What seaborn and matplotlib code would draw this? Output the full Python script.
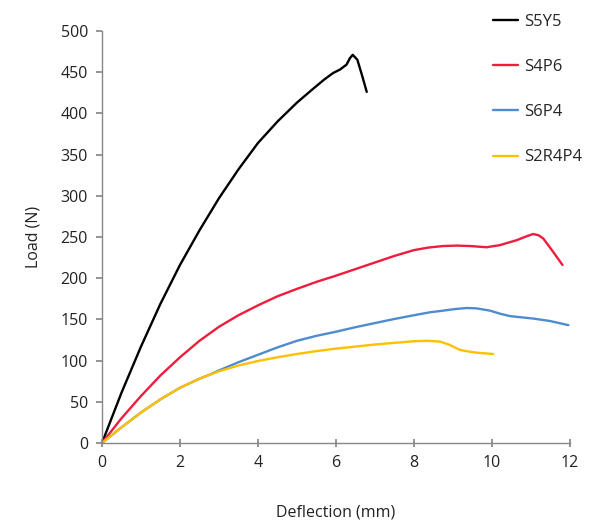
import numpy as np
import pandas as pd
import matplotlib
matplotlib.use("Agg")
import matplotlib.pyplot as plt
import seaborn as sns

# Data
s5y5_x = [0, 0.5, 1.0, 1.5, 2.0, 2.5, 3.0, 3.5, 4.0, 4.5, 5.0, 5.42, 5.7, 5.93, 6.1, 6.27, 6.36, 6.43, 6.55, 6.67, 6.79]
s5y5_y = [0, 61, 117, 169, 216, 258, 297, 332, 364, 390, 413, 430, 441, 449, 453, 459, 467, 471, 465, 446, 426]

s4p6_x = [0, 0.5, 1.0, 1.5, 2.0, 2.5, 3.0, 3.5, 4.0, 4.5, 5.0, 5.5, 6.0, 6.5, 7.0, 7.5, 8.0, 8.35, 8.75, 9.1, 9.44, 9.86, 10.2, 10.63, 10.9, 11.06, 11.2, 11.32, 11.57, 11.81]
s4p6_y = [0, 30, 57, 82, 104, 124, 141, 155, 167, 178, 187, 195.5, 203, 211, 219, 227, 234, 237, 239, 239.5, 239, 237.5, 240, 246, 251, 253.6, 252, 248, 232, 216]

s6p4_x = [0, 0.5, 1.0, 1.5, 2.0, 2.5, 2.77, 3.0, 3.5, 4.0, 4.5, 5.0, 5.5, 6.0, 6.5, 7.0, 7.5, 8.0, 8.4, 8.75, 9.05, 9.35, 9.6, 9.95, 10.2, 10.46, 10.75, 11.06, 11.49, 11.96]
s6p4_y = [0, 19, 37, 53, 67, 78, 83, 88, 98, 107, 116, 124, 130, 135, 140.5, 145.5, 150.5, 155, 158.5, 160.6, 162.5, 163.8, 163.4, 160.6, 157, 154, 152.5, 151, 148, 143]

s2r4p4_x = [0, 0.5, 1.0, 1.5, 2.0, 2.5, 3.0, 3.5, 4.0, 4.5, 5.0, 5.5, 6.0, 6.5, 7.0, 7.5, 8.0, 8.35, 8.67, 8.92, 9.18, 9.4, 9.6, 10.03]
s2r4p4_y = [0, 19, 37, 53, 67, 78, 87, 94, 99.5, 104, 108, 111.5, 114.5, 117, 119.5, 121.5, 123.5, 124, 123, 119, 113, 111, 109.6, 108]

series_names = ["S5Y5", "S4P6", "S6P4", "S2R4P4"]
series_colors = ["#000000", "#EE1D3E", "#4F8BCF", "#FFC000"]

frames = []
for name, xs, ys in zip(series_names,
                        [s5y5_x, s4p6_x, s6p4_x, s2r4p4_x],
                        [s5y5_y, s4p6_y, s6p4_y, s2r4p4_y]):
    frames.append(pd.DataFrame({"Deflection": xs, "Load": ys, "Specimen": name}))
df = pd.concat(frames, ignore_index=True)

sns.set_theme(style="white")
plt.rcParams["font.family"] = ["Open Sans", "DejaVu Sans"]

fig = plt.figure(figsize=(5.93, 5.24), dpi=100)
ax = fig.add_axes([0.172, 0.1546, 0.961 - 0.172, 0.941 - 0.1546])

sns.lineplot(data=df, x="Deflection", y="Load", hue="Specimen", hue_order=series_names,
             palette=series_colors, sort=False, estimator=None, linewidth=1.7, ax=ax, legend=True)
for ln in ax.lines:
    ln.set_solid_joinstyle("round")

ax.set_xlim(0, 12)
ax.set_ylim(0, 500)
ax.set_xticks(np.arange(0, 13, 2))
ax.set_yticks(np.arange(0, 501, 50))
ax.set_xlabel("Deflection (mm)", fontsize=11.5, color="#222222", labelpad=24)
ax.set_ylabel("Load (N)", fontsize=11.5, color="#222222", labelpad=14)
for s in ["top", "right"]:
    ax.spines[s].set_visible(False)
for s in ["left", "bottom"]:
    ax.spines[s].set_color("#888888")
    ax.spines[s].set_linewidth(1.0)
ax.tick_params(axis="y", direction="out", length=4, color="#888888", labelsize=11.5, labelcolor="#222222", pad=6)
ax.tick_params(axis="x", direction="inout", length=6, color="#888888", labelsize=11.5, labelcolor="#222222", pad=6)
ax.tick_params(left=True, bottom=True)

handles, labels = ax.get_legend_handles_labels()
ax.get_legend().remove()
fig.legend(handles, labels, loc="upper left", bbox_to_anchor=(0.806, 1.002), frameon=False,
           fontsize=12, labelspacing=1.75, handlelength=1.5, handletextpad=0.35)

fig.savefig("out.png", dpi=100)
